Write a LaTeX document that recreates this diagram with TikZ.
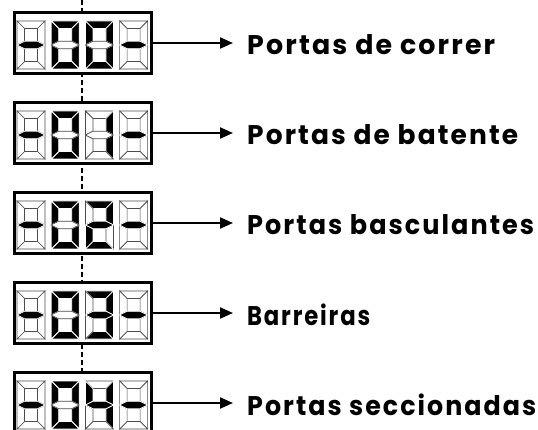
\documentclass[tikz,border=0pt]{standalone}
\usepackage{graphicx}
\usepackage{fontspec}
\setmainfont{Poppins}[LetterSpace=8]
\usetikzlibrary{arrows.meta}
\newdimen\lblw
\newcommand\fitlbl[2]{\settowidth\lblw{#2}\scalebox{\fpeval{#1/\lblw}}[1]{#2}}
\newcommand\dgt[9]{%
  \begin{scope}[shift={(#1,#2)}]
    \path[#3] (0,0) -- (28,0) -- (20.5,7.5) -- (7.5,7.5) -- cycle;
    \path[#4] (28,0) -- (20.5,7.5) -- (20.5,20.25) -- (28,24) -- cycle;
    \path[#5] (28,48) -- (20.5,40.5) -- (20.5,27.75) -- (28,24) -- cycle;
    \path[#6] (0,48) -- (28,48) -- (20.5,40.5) -- (7.5,40.5) -- cycle;
    \path[#7] (0,48) -- (7.5,40.5) -- (7.5,27.75) -- (0,24) -- cycle;
    \path[#8] (0,0) -- (7.5,7.5) -- (7.5,20.25) -- (0,24) -- cycle;
    \path[#9] (0,24) -- (7.5,20.25) -- (20.5,20.25) -- (28,24) -- (20.5,27.75) -- (7.5,27.75) -- cycle;
  \end{scope}}
\tikzset{
  on/.style={fill=black,draw=white,line width=0.8pt},
  off/.style={fill=white,draw=black!70,line width=0.7pt},
  dispbox/.style={draw=black,line width=3pt,fill=white,minimum width=137pt,minimum height=61pt,inner sep=0pt},
  label/.style={font=\fontsize{27}{32}\selectfont\bfseries,anchor=base west,inner sep=0pt},
  arr/.style={line width=2pt,-{Triangle[length=13pt,width=11pt]},shorten >=14pt},
  guide/.style={line width=1.2pt,dash pattern=on 5pt off 3pt}
}
\begin{document}
\begin{tikzpicture}[x=1pt,y=-1pt]
\useasboundingbox (0,0) rectangle (538,430);
\coordinate (gtop) at (82,0);
\coordinate (gbot) at (82,430);
\draw[guide] (gtop) -- (gbot);
% displays
\foreach \i/\yc in {1/43,2/133,3/223,4/313,5/403}{
  \node[dispbox] (b\i) at (83,\yc) {};
}
\foreach \yc in {43,133,223,313,403}{
  \dgt{17}{\yc-22}{off}{off}{off}{off}{off}{off}{on}
  \dgt{51.2}{\yc-22}{on}{on}{on}{on}{on}{on}{off}
  \dgt{119.6}{\yc-22}{off}{off}{off}{off}{off}{off}{on}
}
\dgt{85.4}{21}{on}{on}{on}{on}{on}{on}{off}
\dgt{85.4}{111}{off}{on}{on}{off}{off}{off}{off}
\dgt{85.4}{201}{on}{on}{off}{on}{on}{off}{on}
\dgt{85.4}{291}{on}{on}{on}{on}{off}{off}{on}
\dgt{85.4}{381}{off}{on}{on}{off}{off}{on}{on}
% labels
\node[label] (t1) at (247,55) {\fitlbl{248}{Portas de correr}};
\node[label] (t2) at (247,145) {\fitlbl{271}{Portas de batente}};
\node[label] (t3) at (247,235) {\fitlbl{287}{Portas basculantes}};
\node[label] (t4) at (247,325) {\fitlbl{123}{Barreiras}};
\node[label] (t5) at (247,415) {\fitlbl{289}{Portas seccionadas}};
\foreach \i in {1,...,5}{
  \draw[arr] (b\i.east) -- (b\i.east -| t\i.west);
}
\end{tikzpicture}
\end{document}
